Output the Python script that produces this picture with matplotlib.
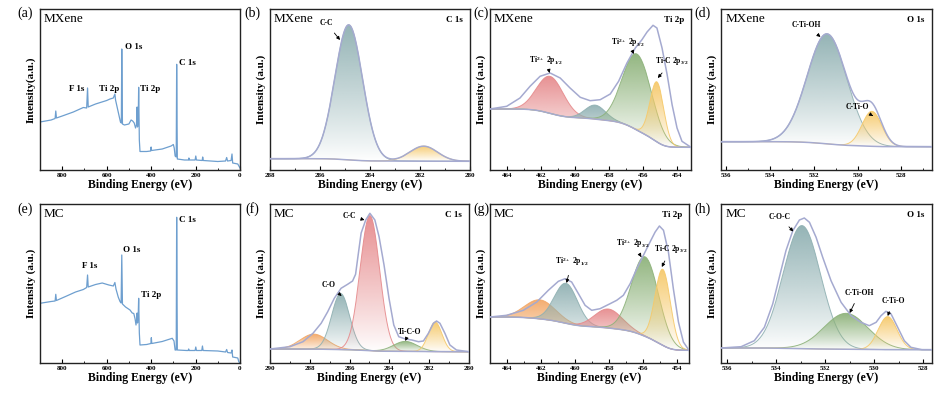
import numpy as np
import matplotlib
matplotlib.use("Agg")
import matplotlib.pyplot as plt
from matplotlib.patches import Polygon
from matplotlib.colors import to_rgb
from matplotlib.ticker import MultipleLocator

plt.rcParams['font.family'] = ['Liberation Serif', 'DejaVu Serif']
plt.rcParams['mathtext.fontset'] = 'custom'
plt.rcParams['mathtext.rm'] = 'Liberation Serif:bold'
plt.rcParams['mathtext.bf'] = 'Liberation Serif:bold'
plt.rcParams['mathtext.default'] = 'bf'

TEAL = '#8fb0b2'
RED = '#e68a8c'
GREEN = '#8db27a'
YELLOW = '#f6c96a'
ORANGE = '#f3a867'
LINE = '#a5aad0'
SURVEY = '#6e9fcf'

# ---- survey spectra (binding energy, intensity) ----
mx_energy = [900, 850, 832, 829, 826, 800, 750, 705, 690, 686, 683, 650, 600, 585, 570, 563, 560,
             552, 545, 538, 534, 532, 529, 520, 500, 490, 483, 476, 470, 466, 463, 461, 458, 456,
             453, 450, 420, 402, 400, 398, 350, 310, 300, 296, 292, 287, 285, 282, 250, 232, 230,
             228, 202, 199, 196, 170, 168, 165, 100, 65, 60, 56, 40, 36, 33, 10, 5, 0]
mx_count = [48, 50, 51.5, 59, 52, 54, 58, 62.5, 62, 82, 63, 66, 69.5, 71, 72, 76, 70,
            62, 55, 48, 47, 121, 46, 45, 46, 50, 49, 47, 42, 45, 63, 43, 50, 82.7,
            30, 18.5, 18.5, 19, 23, 19.5, 21, 24, 25.5, 22, 14, 13, 105.7, 11, 10, 10, 12,
            10, 10, 14, 10, 9.5, 13, 9.5, 8.5, 9, 12.5, 9, 9.5, 16, 7, 6, 4, 2]

mc_energy = [900, 850, 832, 829, 826, 780, 740, 705, 690, 686, 683, 650, 620, 590, 570, 563, 558,
             548, 540, 535, 532, 529, 515, 495, 485, 478, 472, 468, 465, 463, 461, 458, 456,
             453, 450, 420, 401, 399, 397, 350, 305, 297, 292, 287, 285, 282, 240, 233, 231,
             229, 202, 199, 196, 172, 169, 166, 100, 65, 60, 56, 40, 36, 33, 10, 5, 0]
mc_count = [59.7, 61.5, 62, 68.7, 62.5, 67, 71, 73.5, 75.5, 88, 76, 78.5, 80, 78, 77, 80.5, 74,
            66, 61.5, 60, 108, 59, 56, 53, 50, 49.5, 44, 38, 44, 50, 40, 48, 64.7,
            30, 18, 18.5, 19.5, 25.3, 19.5, 21.5, 24.7, 22, 13, 13, 145.7, 13, 12.5, 12.5, 14,
            12.5, 12.5, 16, 12.5, 12.5, 17, 12.5, 12, 11, 13.5, 10.5, 10, 13, 6, 5, 1, 0]

# ---- fitted high-resolution spectra: peak centre (eV), height, FWHM (eV) ----
b_center = [284.85, 281.85]
b_height = [135, 15]
b_fwhm = [1.3, 1.3]
b_bg = [11.3, 8.7]          # background at high / low BE end

c_center = [461.47, 458.82, 456.37, 455.2]
c_height = [37, 14, 76, 60]
c_fwhm = [1.85, 1.4, 2.0, 0.95]
c_bg = [61, 22.7]
c_env_energy = [465, 464.02, 463.24, 462.65, 462.06, 461.47, 460.88, 460.3, 459.7, 459.12, 458.53,
                457.94, 457.45, 456.96, 456.47, 456.08, 455.78, 455.43, 455.2, 454.9, 454.6,
                454.31, 454.02, 453.73, 453.2]
c_env_count = [61, 63.7, 72, 83.7, 93.7, 97, 92, 82, 72.7, 69.3, 70.3,
               76, 88.7, 107, 122, 130.3, 138, 144.7, 142, 122, 95.3,
               65.3, 42, 28.7, 22.7]

d_center = [531.4, 529.35]
d_height = [110, 35]
d_fwhm = [2.14, 1.06]
d_bg = [28.3, 23.3]

f_center = [287.8, 286.45, 284.98, 283.2, 281.7]
f_height = [15, 56, 135, 10, 29.5]
f_fwhm = [1.6, 1.06, 1.15, 1.4, 0.8]
f_bg = [14, 11.3]
f_env_energy = [290, 289.0, 288.34, 287.84, 287.43, 287.1, 286.77, 286.43, 286.1, 285.85, 285.7,
                285.55, 285.42, 285.19, 284.98, 284.73, 284.52, 284.27, 284.02, 283.78, 283.53,
                283.2, 282.87, 282.54, 282.29, 282.04, 281.79, 281.63, 281.46, 281.21, 280.96,
                280.63, 280]
f_env_count = [14, 16.3, 21.3, 29.7, 39.7, 51.3, 64.7, 74.7, 78.7, 82, 88.7,
               111, 130, 143, 149.7, 143, 126.3, 98, 64.7, 38, 26.3,
               24, 23, 21.3, 22, 29.7, 39.7, 42, 39.7, 29.7, 18,
               13, 11.3]

g_center = [462.06, 460.53, 458.04, 455.88, 454.84]
g_height = [19, 40, 19, 79.5, 76]
g_fwhm = [2.1, 1.6, 1.9, 1.87, 1.06]
g_bg = [46, 12.7]
g_env_energy = [465, 464.02, 463.04, 462.25, 461.57, 460.98, 460.59, 460.2, 459.8, 459.41, 459.02,
                458.53, 457.94, 457.55, 457.16, 456.76, 456.37, 455.98, 455.59, 455.29, 455.04,
                454.8, 454.51, 454.22, 453.92, 453.63, 453.3]
g_env_count = [46, 47.7, 52.7, 61, 72.7, 81.7, 84.3, 81, 69.3, 57.7, 52.7,
               54.3, 59.3, 62.7, 67.7, 79.3, 94.3, 107.7, 121, 131, 137,
               132.7, 111, 74.3, 41, 21, 12.7]

h_center = [532.95, 531.15, 529.45]
h_height = [123, 36, 33]
h_fwhm = [1.8, 2.1, 0.9]
h_bg = [15, 13.3]
h_env_energy = [536.25, 535.43, 534.89, 534.48, 534.14, 533.87, 533.6, 533.32, 533.05, 532.85,
                532.64, 532.37, 532.1, 531.76, 531.35, 530.94, 530.54, 530.2, 529.92, 529.72,
                529.52, 529.31, 529.04, 528.77, 528.5, 528.05, 527.64]
h_env_count = [15, 16.3, 22.3, 35.7, 59, 85.7, 112.3, 132.3, 143, 145,
               140.7, 125.7, 105.7, 82.3, 60.7, 47.3, 40.7, 37.3, 40.7, 47.3,
               51.7, 49, 35.7, 22.3, 15.7, 13.3, 13.3]


def peak(x, c, h, w):
    s = w / 2.3548
    return h * np.exp(-0.5 * ((x - c) / s) ** 2)


def grad_fill(ax, x, top, base, color, z):
    poly = np.concatenate([np.c_[x, top], np.c_[x[::-1], base[::-1]]])
    patch = Polygon(poly, closed=True, facecolor='none', edgecolor='none')
    ax.add_patch(patch)
    img = np.zeros((200, 1, 4))
    img[:, 0, :3] = to_rgb(color)
    img[:, 0, 3] = np.linspace(0, 1, 200) ** 0.9 * 0.95
    im = ax.imshow(img, extent=[x.min(), x.max(), base.min(), top.max()],
                   origin='lower', aspect='auto', zorder=z, interpolation='bilinear')
    im.set_clip_path(patch)


def fit_panel(ax, xlim, centers, heights, fwhms, colors, bg_ends, env=None):
    x = np.linspace(min(xlim), max(xlim), 800)
    comps = [peak(x, c, h, w) for c, h, w in zip(centers, heights, fwhms)]
    total = np.sum(comps, axis=0)
    cum = np.cumsum(total)
    bg = bg_ends[1] + (bg_ends[0] - bg_ends[1]) * cum / cum[-1]
    for i, (comp, col) in enumerate(zip(comps, colors)):
        grad_fill(ax, x, bg + comp, bg, col, 1 + i * 0.1)
        ax.plot(x, bg + comp, color=col, lw=0.7, alpha=0.9, zorder=1.05 + i * 0.1)
    ax.plot(x, bg, color=LINE, lw=1.1, zorder=3)
    if env is None:
        ax.plot(x, bg + total, color=LINE, lw=1.1, zorder=3)
    else:
        ax.plot(env[0], env[1], color=LINE, lw=1.1, zorder=3)
    ax.set_xlim(max(xlim), min(xlim))


def style(ax, ylab, ymax, major=2, minor=1):
    ax.set_ylim(0, ymax)
    ax.set_yticks([])
    ax.xaxis.set_major_locator(MultipleLocator(major))
    ax.xaxis.set_minor_locator(MultipleLocator(minor))
    ax.tick_params(axis='x', which='major', direction='in', length=3, width=0.8, labelsize=5, pad=2)
    ax.tick_params(axis='x', which='minor', direction='in', length=1.5, width=0.6)
    for lab in ax.get_xticklabels():
        lab.set_fontweight('bold')
    for sp in ax.spines.values():
        sp.set_linewidth(1.0)
        sp.set_color('#222222')
    ax.set_xlabel('Binding Energy (eV)', fontsize=8.5, fontweight='bold', labelpad=1)
    ax.set_ylabel(ylab, fontsize=8, fontweight='bold', labelpad=3)


def annot(ax, txt, xy, xytext):
    ax.annotate(txt, xy=xy, xytext=xytext, fontsize=5.5, fontweight='bold', ha='center', va='center',
                arrowprops=dict(arrowstyle='-|>', color='black', lw=0.6, mutation_scale=5,
                                shrinkA=3, shrinkB=0), zorder=5)


def corner(ax, sample, core=None):
    ax.text(0.02, 0.975, sample, transform=ax.transAxes, fontsize=9.5, ha='left', va='top')
    if core:
        ax.text(0.965, 0.93, core, transform=ax.transAxes, fontsize=6.5, fontweight='bold',
                ha='right', va='center')


fig = plt.figure(figsize=(9.47, 3.94), dpi=100)
W, H = 947, 394


def box(left, right, top, bottom):
    return [left / W, 1 - bottom / H, (right - left) / W, (bottom - top) / H]


ax_a = fig.add_axes(box(40, 240, 9, 170))
ax_b = fig.add_axes(box(270, 470, 9, 170))
ax_c = fig.add_axes(box(490, 691, 9, 170))
ax_d = fig.add_axes(box(721, 932, 9, 170))
ax_e = fig.add_axes(box(40, 240, 204, 363))
ax_f = fig.add_axes(box(270, 469, 204, 363))
ax_g = fig.add_axes(box(490, 689, 204, 363))
ax_h = fig.add_axes(box(721, 932, 204, 363))

# (a) MXene survey
ax_a.plot(mx_energy, mx_count, color=SURVEY, lw=0.9)
ax_a.set_xlim(900, 0)
style(ax_a, 'Intensity(a.u.)', 161, 200, 100)
corner(ax_a, 'MXene')
for txt, xx, yy in [('F 1s', 768, 80.7), ('Ti 2p', 633, 80.7), ('O 1s', 517, 123.3),
                    ('Ti 2p', 450, 80.7), ('C 1s', 273, 107.3)]:
    ax_a.text(xx, yy, txt, fontsize=6.5, fontweight='bold', ha='left', va='center')

# (e) MC survey
ax_e.plot(mc_energy, mc_count, color=SURVEY, lw=0.9)
ax_e.set_xlim(900, 0)
style(ax_e, 'Intensity (a.u.)', 159, 200, 100)
corner(ax_e, 'MC')
for txt, xx, yy in [('F 1s', 712, 97), ('O 1s', 525, 113), ('Ti 2p', 447, 68), ('C 1s', 273, 143)]:
    ax_e.text(xx, yy, txt, fontsize=6.5, fontweight='bold', ha='left', va='center')

# (b) MXene C 1s
fit_panel(ax_b, (288, 280), b_center, b_height, b_fwhm, [TEAL, YELLOW], b_bg)
style(ax_b, 'Intensity (a.u.)', 161)
corner(ax_b, 'MXene', 'C 1s')
annot(ax_b, 'C-C', (285.2, 130), (285.75, 147))

# (c) MXene Ti 2p
fit_panel(ax_c, (465, 453.2), c_center, c_height, c_fwhm, [RED, TEAL, GREEN, YELLOW], c_bg,
          (c_env_energy, c_env_count))
style(ax_c, 'Intensity (a.u.)', 161)
corner(ax_c, 'MXene', 'Ti 2p')
annot(ax_c, 'Ti$^{2+}$ 2p$_{1/2}$', (461.5, 97), (461.7, 110))
annot(ax_c, 'Ti$^{2+}$ 2p$_{3/2}$', (456.55, 116), (456.9, 128))
annot(ax_c, 'Ti-C 2p$_{3/2}$', (455.15, 92), (454.3, 109))

# (d) MXene O 1s
fit_panel(ax_d, (536.25, 526.6), d_center, d_height, d_fwhm, [TEAL, YELLOW], d_bg)
style(ax_d, 'Intensity (a.u.)', 161)
corner(ax_d, 'MXene', 'O 1s')
annot(ax_d, 'C-Ti-OH', (531.7, 133), (532.35, 145))
annot(ax_d, 'C-Ti-O', (529.3, 54), (530.0, 63.5))

# (f) MC C 1s
fit_panel(ax_f, (290, 280), f_center, f_height, f_fwhm, [ORANGE, TEAL, RED, GREEN, YELLOW], f_bg,
          (f_env_energy, f_env_count))
style(ax_f, 'Intensity (a.u.)', 159)
corner(ax_f, 'MC', 'C 1s')
annot(ax_f, 'C-C', (285.25, 143), (286.0, 147.5))
annot(ax_f, 'C-O', (286.4, 67), (287.05, 78))
annot(ax_f, 'Ti-C-O', (283.2, 22), (283.0, 31.5))

# (g) MC Ti 2p
fit_panel(ax_g, (465, 453.3), g_center, g_height, g_fwhm, [ORANGE, TEAL, RED, GREEN, YELLOW], g_bg,
          (g_env_energy, g_env_count))
style(ax_g, 'Intensity (a.u.)', 159)
corner(ax_g, 'MC', 'Ti 2p')
annot(ax_g, 'Ti$^{2+}$ 2p$_{1/2}$', (460.5, 80), (460.2, 101))
annot(ax_g, 'Ti$^{2+}$ 2p$_{3/2}$', (456.1, 106), (456.6, 119.5))
annot(ax_g, 'Ti-C 2p$_{3/2}$', (454.9, 96), (454.35, 114.5))

# (h) MC O 1s
fit_panel(ax_h, (536.25, 527.64), h_center, h_height, h_fwhm, [TEAL, GREEN, YELLOW], h_bg,
          (h_env_energy, h_env_count))
style(ax_h, 'Intensity (a.u.)', 159)
corner(ax_h, 'MC', 'O 1s')
annot(ax_h, 'C-O-C', (533.3, 131.5), (533.85, 146))
annot(ax_h, 'C-Ti-OH', (531.0, 50), (530.6, 70))
annot(ax_h, 'C-Ti-O', (529.45, 47), (529.2, 62))

for lab, px, py in [('(a)', 25, 13), ('(b)', 252, 13), ('(c)', 481, 13), ('(d)', 702, 13),
                    ('(e)', 25, 209), ('(f)', 252, 209), ('(g)', 481, 209), ('(h)', 702, 209)]:
    fig.text(px / W, 1 - py / H, lab, fontsize=10, ha='center', va='center')

fig.savefig('out.png', dpi=100)
